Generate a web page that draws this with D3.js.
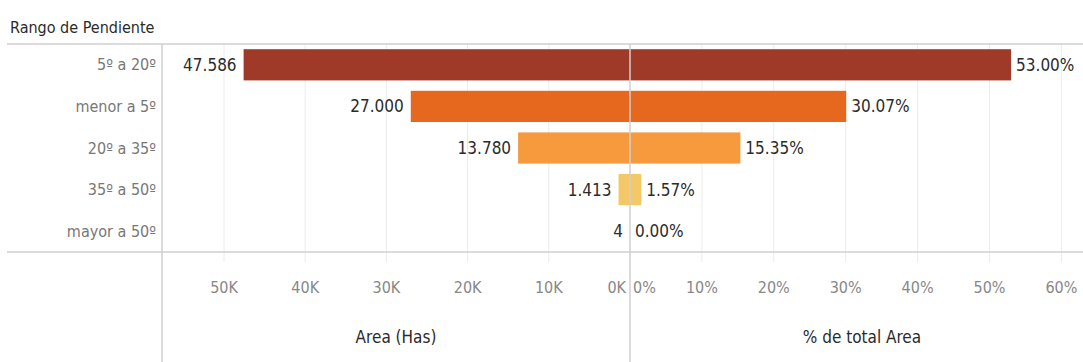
<!DOCTYPE html>
<html>
<head>
<meta charset="utf-8">
<script src="https://cdn.jsdelivr.net/npm/d3@7"></script>
<style>
  html, body { margin: 0; padding: 0; background: #fff; }
  svg { display: block; font-family: "Liberation Sans Narrow", "DejaVu Sans Condensed", "Roboto Condensed", sans-serif; }
</style>
</head>
<body>
<svg id="chart" width="1083" height="362"></svg>
<script>
// Slope ranges with their area (hectares) and share of total area
const categories = ["5º a 20º", "menor a 5º", "20º a 35º", "35º a 50º", "mayor a 50º"];
const areaHas = [47586, 27000, 13780, 1413, 4];
const pctArea = [53.00, 30.07, 15.35, 1.57, 0.00];
const barColors = ["#9e3a27", "#e6681f", "#f79a3e", "#f4c866", "#f4c866"];
const areaTicks = [0, 10000, 20000, 30000, 40000, 50000];
const pctTicks = [0, 10, 20, 30, 40, 50, 60];

const svg = d3.select("#chart");
const W = 1083, H = 362;
const paneTop = 44, paneBottom = 252;
const leftEdge = 162, mid = 630;

const y = d3.scaleBand().domain(categories).range([paneTop, paneBottom]).paddingInner(0.25).paddingOuter(0.125);

// Area axis grows to the left from the centre line
const xArea = d3.scaleLinear().domain([0, 10000]).range([mid, mid - 81.2]);
// Percentage axis grows to the right
const xPct = d3.scaleLinear().domain([0, 10]).range([mid, mid + 71.9]);

const esFmt = d3.formatLocale({ decimal: ",", thousands: ".", grouping: [3], currency: ["$", ""] });
const fmtArea = esFmt.format(",.0f");
const fmtPct = d => d3.format(".2f")(d) + "%";

const gridColor = "#ececec";
const lineColor = "#cfcfcf";

// Vertical gridlines (extending a little into the axis area)
svg.append("g").selectAll("line").data(areaTicks.filter(d => d > 0)).join("line")
  .attr("x1", d => xArea(d)).attr("x2", d => xArea(d))
  .attr("y1", paneTop).attr("y2", paneBottom + 10)
  .attr("stroke", gridColor).attr("stroke-width", 1);
svg.append("g").selectAll("line").data(pctTicks.filter(d => d > 0)).join("line")
  .attr("x1", d => xPct(d)).attr("x2", d => xPct(d))
  .attr("y1", paneTop).attr("y2", paneBottom + 10)
  .attr("stroke", gridColor).attr("stroke-width", 1);

// Bars: area to the left
svg.append("g").selectAll("rect").data(categories).join("rect")
  .attr("x", (d, i) => xArea(areaHas[i]))
  .attr("y", d => y(d))
  .attr("width", (d, i) => mid - xArea(areaHas[i]))
  .attr("height", y.bandwidth())
  .attr("fill", (d, i) => barColors[i]);

// Bars: percentage to the right
svg.append("g").selectAll("rect").data(categories).join("rect")
  .attr("x", mid)
  .attr("y", d => y(d))
  .attr("width", (d, i) => xPct(pctArea[i]) - mid)
  .attr("height", y.bandwidth())
  .attr("fill", (d, i) => barColors[i]);

// Value labels
svg.append("g").selectAll("text").data(categories).join("text")
  .attr("x", (d, i) => xArea(areaHas[i]) - 7)
  .attr("y", d => y(d) + y.bandwidth() / 2)
  .attr("dy", "0.35em")
  .attr("text-anchor", "end")
  .attr("font-size", 17)
  .attr("fill", "#2b2b2b")
  .text((d, i) => fmtArea(areaHas[i]));
svg.append("g").selectAll("text").data(categories).join("text")
  .attr("x", (d, i) => xPct(pctArea[i]) + 5)
  .attr("y", d => y(d) + y.bandwidth() / 2)
  .attr("dy", "0.35em")
  .attr("text-anchor", "start")
  .attr("font-size", 17)
  .attr("fill", "#2b2b2b")
  .text((d, i) => fmtPct(pctArea[i]));

// Frame lines
svg.append("line").attr("x1", 7).attr("x2", W).attr("y1", paneTop).attr("y2", paneTop)
  .attr("stroke", lineColor).attr("stroke-width", 1.5);
svg.append("line").attr("x1", 7).attr("x2", W).attr("y1", paneBottom).attr("y2", paneBottom)
  .attr("stroke", lineColor).attr("stroke-width", 1.5);
svg.append("line").attr("x1", leftEdge).attr("x2", leftEdge).attr("y1", paneTop).attr("y2", H)
  .attr("stroke", lineColor).attr("stroke-width", 1.5);
svg.append("line").attr("x1", mid).attr("x2", mid).attr("y1", paneTop).attr("y2", H)
  .attr("stroke", lineColor).attr("stroke-width", 1.5);

// Category labels
svg.append("g").selectAll("text").data(categories).join("text")
  .attr("x", 156)
  .attr("y", d => y(d) + y.bandwidth() / 2)
  .attr("dy", "0.35em")
  .attr("text-anchor", "end")
  .attr("font-size", 16)
  .attr("fill", "#777")
  .text(d => d);

// Header
svg.append("text").attr("x", 10).attr("y", 27).attr("dy", "0.35em")
  .attr("font-size", 16).attr("fill", "#2b2b2b").text("Rango de Pendiente");

// Tick labels
const tickY = 287;
svg.append("g").selectAll("text").data(areaTicks).join("text")
  .attr("x", d => d === 0 ? mid - 4 : xArea(d))
  .attr("y", tickY).attr("dy", "0.35em")
  .attr("text-anchor", d => d === 0 ? "end" : "middle")
  .attr("font-size", 16).attr("fill", "#888")
  .text(d => (d / 1000) + "K");
svg.append("g").selectAll("text").data(pctTicks).join("text")
  .attr("x", d => d === 0 ? mid + 3 : xPct(d))
  .attr("y", tickY).attr("dy", "0.35em")
  .attr("text-anchor", d => d === 0 ? "start" : "middle")
  .attr("font-size", 16).attr("fill", "#888")
  .text(d => d + "%");

// Axis titles
svg.append("text").attr("x", (leftEdge + mid) / 2).attr("y", 337).attr("dy", "0.35em")
  .attr("text-anchor", "middle").attr("font-size", 17).attr("fill", "#2b2b2b").text("Area (Has)");
svg.append("text").attr("x", 862).attr("y", 337).attr("dy", "0.35em")
  .attr("text-anchor", "middle").attr("font-size", 17).attr("fill", "#2b2b2b").text("% de total Area");
</script>
</body>
</html>
